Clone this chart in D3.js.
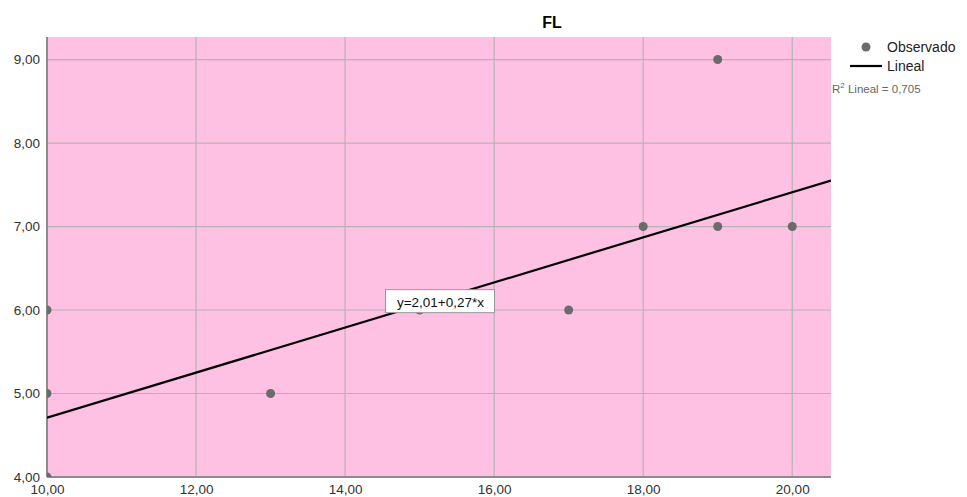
<!DOCTYPE html>
<html>
<head>
<meta charset="utf-8">
<script src="https://cdn.jsdelivr.net/npm/d3@7"></script>
<style>
  body { margin: 0; background: #fff; }
  text { font-family: Arial, "Liberation Sans", sans-serif; }
</style>
</head>
<body>
<div id="vis"></div>
<script>
const W = 967, H = 497;
const margin = { top: 37, right: 136, bottom: 20, left: 47 };
const width = W - margin.left - margin.right;
const height = H - margin.top - margin.bottom;

// observed points (x, y)
const xValues = [10, 10, 10, 13, 15, 17, 18, 19, 19, 20];
const yValues = [6, 5, 4, 5, 6, 6, 7, 7, 9, 7];
const xTicks = [10, 12, 14, 16, 18, 20];
const yTicks = [4, 5, 6, 7, 8, 9];
const fit = { intercept: 2.01, slope: 0.27, r2: "0,705" };

const fmt = v => d3.format(".2f")(v).replace(".", ",");

const svg = d3.select("#vis").append("svg")
    .attr("width", W)
    .attr("height", H);

const g = svg.append("g")
    .attr("transform", `translate(${margin.left},${margin.top})`);

const x = d3.scaleLinear().domain([10, 20.52]).range([0, width]);
const y = d3.scaleLinear().domain([4, 9.27]).range([height, 0]);

g.append("defs").append("clipPath").attr("id", "clip")
  .append("rect").attr("width", width).attr("height", height);

g.append("rect")
    .attr("width", width)
    .attr("height", height)
    .attr("fill", "#ffc1e3");

// grid
g.append("g")
  .selectAll("line")
  .data(xTicks)
  .join("line")
    .attr("x1", d => x(d)).attr("x2", d => x(d))
    .attr("y1", 0).attr("y2", height)
    .attr("stroke", "#b4b4b4").attr("stroke-width", 1.2);

g.append("g")
  .selectAll("line")
  .data(yTicks)
  .join("line")
    .attr("y1", d => y(d)).attr("y2", d => y(d))
    .attr("x1", 0).attr("x2", width)
    .attr("stroke", "#b4b4b4").attr("stroke-width", 1.2);

// axes lines
g.append("line")
    .attr("x1", 0).attr("x2", 0).attr("y1", 0).attr("y2", height)
    .attr("stroke", "#8c8c8c").attr("stroke-width", 2);
g.append("line")
    .attr("x1", 0).attr("x2", width).attr("y1", height).attr("y2", height)
    .attr("stroke", "#8c8c8c").attr("stroke-width", 2);

// tick labels
const xAxis = d3.axisBottom(x).tickValues(xTicks).tickFormat(fmt).tickSize(0).tickPadding(7);
const yAxis = d3.axisLeft(y).tickValues(yTicks).tickFormat(fmt).tickSize(0).tickPadding(7);

const xa = g.append("g").attr("transform", `translate(0,${height})`).call(xAxis);
const ya = g.append("g").call(yAxis);
[xa, ya].forEach(a => {
  a.select(".domain").remove();
  a.selectAll("text").style("font-size", "13.5px").attr("fill", "#333");
});

// points
const pts = g.append("g").attr("clip-path", "url(#clip)");
pts.selectAll("circle")
  .data(xValues.map((v, i) => [v, yValues[i]]))
  .join("circle")
    .attr("cx", d => x(d[0]))
    .attr("cy", d => y(d[1]))
    .attr("r", 4.5)
    .attr("fill", "#6b6b6b");

// fit line
const x0 = x.domain()[0], x1 = x.domain()[1];
g.append("line")
    .attr("clip-path", "url(#clip)")
    .attr("x1", x(x0)).attr("y1", y(fit.intercept + fit.slope * x0))
    .attr("x2", x(x1)).attr("y2", y(fit.intercept + fit.slope * x1))
    .attr("stroke", "#000").attr("stroke-width", 2.2);

// equation label
const lx = x(15.28), ly = y(6.1);
g.append("rect")
    .attr("x", lx - 55).attr("y", ly - 12)
    .attr("width", 109).attr("height", 23)
    .attr("fill", "#fff").attr("stroke", "#999").attr("stroke-width", 1);
g.append("text")
    .attr("x", lx).attr("y", ly + 5)
    .attr("text-anchor", "middle")
    .style("font-size", "13.5px")
    .attr("fill", "#111")
    .text(`y=${fmt(fit.intercept)}+${fmt(fit.slope)}*x`);

// title
svg.append("text")
    .attr("x", 552).attr("y", 28)
    .attr("text-anchor", "middle")
    .style("font-size", "16px")
    .style("font-weight", "bold")
    .text("FL");

// legend
const lg = svg.append("g");
lg.append("circle").attr("cx", 866).attr("cy", 47).attr("r", 4.5).attr("fill", "#6b6b6b");
lg.append("text").attr("x", 887).attr("y", 52).style("font-size", "14px").attr("fill", "#222").text("Observado");
lg.append("line").attr("x1", 850).attr("x2", 882).attr("y1", 66).attr("y2", 66)
    .attr("stroke", "#000").attr("stroke-width", 2.2);
lg.append("text").attr("x", 887).attr("y", 71).style("font-size", "14px").attr("fill", "#222").text("Lineal");
const r2 = lg.append("text").attr("x", 832).attr("y", 93).style("font-size", "11.5px").attr("fill", "#666");
r2.append("tspan").text("R");
r2.append("tspan").attr("dy", -5).style("font-size", "8px").text("2");
r2.append("tspan").attr("dy", 5).text(` Lineal = ${fit.r2}`);
</script>
</body>
</html>
